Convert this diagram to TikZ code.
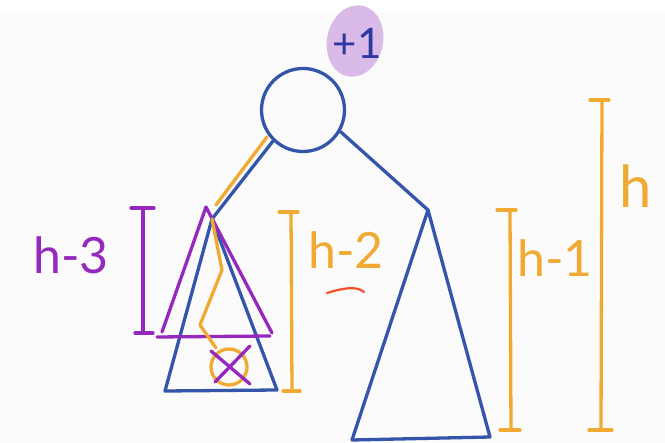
\documentclass[tikz,border=0pt]{standalone}
\usepackage{fontspec}
\setmainfont{Lato}
\usetikzlibrary{shapes.geometric}
\definecolor{tblue}{RGB}{52,86,170}
\definecolor{torange}{RGB}{240,170,50}
\definecolor{tpurple}{RGB}{150,40,190}
\definecolor{tblob}{RGB}{218,186,232}
\definecolor{tdark}{RGB}{45,55,160}
\definecolor{tred}{RGB}{240,80,40}
\definecolor{bgray}{RGB}{251,251,251}
\tikzset{
  blueline/.style={draw=tblue, line width=3.3pt},
  orangeline/.style={draw=torange, line width=3.3pt},
  purpleline/.style={draw=tpurple, line width=3.3pt},
  lbl/.style={font=\fontsize{50}{50}\selectfont, inner sep=0pt},
}
\begin{document}
\begin{tikzpicture}[x=1pt,y=-1pt,line cap=round,line join=round]
\useasboundingbox (0,0) rectangle (665,443);
\fill[white] (0,0) rectangle (665,443);
\fill[bgray] (0,12) rectangle (665,443);

% root and its +1 mark
\node[ellipse, fill=tblob, minimum width=56pt, minimum height=72pt, rotate=-12] (blob) at (355,41) {};
\node[lbl, text=tdark, font=\fontsize{42}{42}\selectfont] (plus) at (357,43) {+1};
\node[circle, blueline, minimum size=83pt, inner sep=0pt] (root) at (303,110) {};

% apexes and corners
\coordinate (la) at (212,219);
\coordinate (lbl) at (165,391);
\coordinate (lbr) at (277,390);
\coordinate (ra) at (428,210);
\coordinate (rbl) at (352,440);
\coordinate (rbr) at (490,437);

% edges
\draw[blueline] (root.226) -- (la);
\draw[blueline] (root.-30) -- (ra);
\coordinate (o1) at (267,137);
\coordinate (o2) at (216,205);
\draw[orangeline] (o1) -- (o2);

% subtrees
\draw[blueline] (la) -- (lbl) -- (lbr) -- cycle;
\draw[blueline] (ra) -- (rbl) -- (rbr) -- cycle;

% purple subtree of height h-3
\coordinate (pa) at (206,207);
\coordinate (pl) at (162,332);
\coordinate (pr) at (272,333);
\coordinate (pbl) at (157,337);
\coordinate (pbr) at (270,336);
\draw[purpleline] (pl) -- (pa) -- (pr);
\draw[purpleline] (pbl) -- (pbr);

% orange path and deleted node
\coordinate (z1) at (222,270);
\coordinate (z2) at (200,325);
\coordinate (z3) at (216,348);
\draw[orangeline] (la) -- (z1) -- (z2) -- (z3);
\node[circle, orangeline, minimum size=36pt, inner sep=0pt] (del) at (229,367) {};
\draw[purpleline] (211,351) -- (250,384);
\draw[purpleline] (250,346) -- (215,382);

% brackets
\coordinate (b3t) at (143,208); \coordinate (b3b) at (143,333);
\draw[purpleline] (b3t) -- (b3b);
\draw[purpleline] (131,208) -- (154,208);
\draw[purpleline] (135,333) -- (153,333);
\node[lbl, text=tpurple] (t3) at (71,255) {h-3};

\coordinate (b2t) at (291,212); \coordinate (b2b) at (292,391);
\draw[orangeline] (b2t) -- (b2b);
\draw[orangeline] (279,212) -- (298,212);
\draw[orangeline] (283,391) -- (300,391);
\node[lbl, text=torange] (t2) at (346,250) {h-2};
\coordinate (s1) at (327,293);
\coordinate (s2) at (364,292);
\draw[draw=tred, line width=2.2pt] (s1) .. controls (340,289) and (356,285) .. (s2);

\coordinate (b1t) at (510,210); \coordinate (b1b) at (511,430);
\draw[orangeline] (b1t) -- (b1b);
\draw[orangeline] (497,210) -- (516,210);
\draw[orangeline] (500,430) -- (520,430);
\node[lbl, text=torange] (t1) at (555,258) {h-1};

\coordinate (bht) at (602,100); \coordinate (bhb) at (601,430);
\draw[orangeline] (bht) -- (bhb);
\draw[orangeline] (590,100) -- (609,100);
\draw[orangeline] (589,430) -- (612,430);
\node[lbl, text=torange, font=\fontsize{58}{58}\selectfont] (th) at (636,186) {h};
\end{tikzpicture}
\end{document}
